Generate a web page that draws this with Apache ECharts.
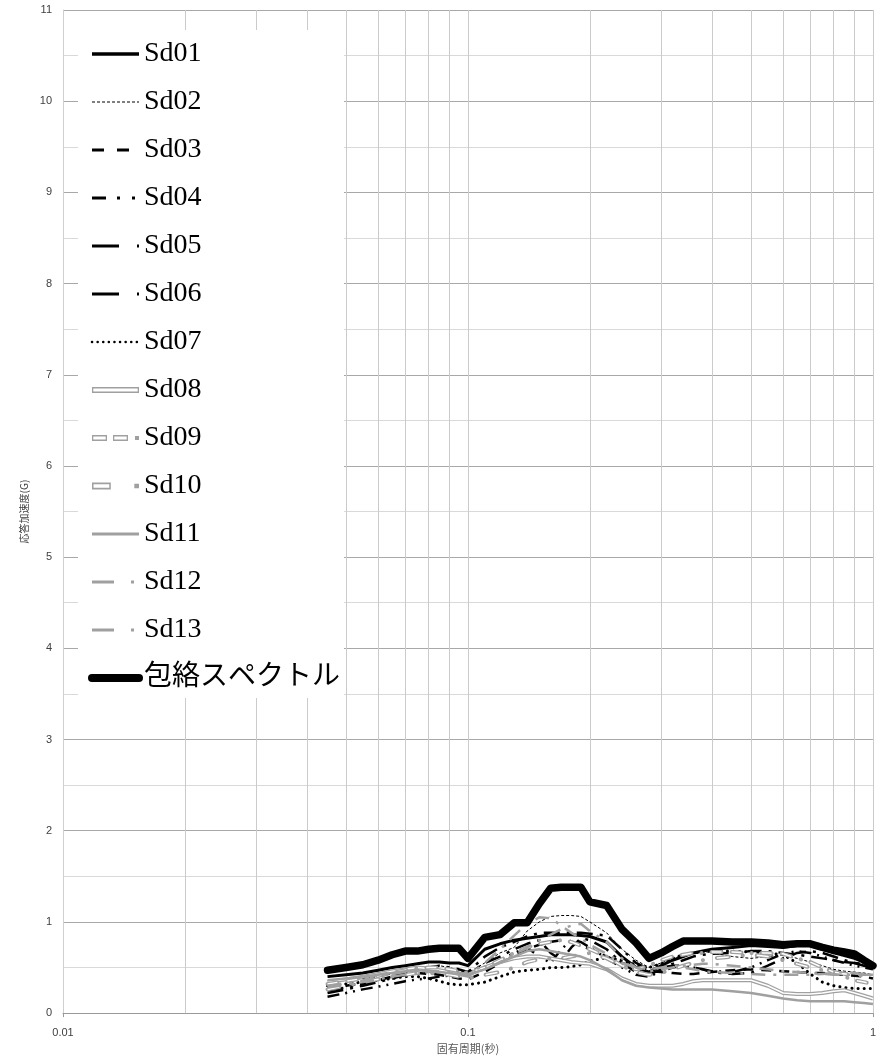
<!DOCTYPE html>
<html><head><meta charset="utf-8">
<script src="https://cdn.jsdelivr.net/npm/echarts@6/dist/echarts.min.js"></script>
<style>html,body{margin:0;padding:0;background:#fff}#c{width:879px;height:1059px}</style>
</head><body><div id="c"></div>
<script>
// ---------------- data ----------------
const periods = [0.045,0.05,0.055,0.06,0.065,0.07,0.075,0.08,0.085,0.09,0.095,0.1,0.11,0.12,0.13,0.14,0.15,0.16,0.17,0.18,0.19,0.2,0.22,0.24,0.26,0.28,0.3,0.32,0.34,0.36,0.38,0.4,0.45,0.5,0.55,0.6,0.65,0.7,0.75,0.8,0.85,0.9,0.95,1.0];
const sd01 = [0.40,0.42,0.44,0.47,0.50,0.52,0.54,0.56,0.56,0.55,0.55,0.52,0.70,0.76,0.80,0.82,0.84,0.86,0.86,0.86,0.85,0.84,0.78,0.62,0.50,0.45,0.52,0.58,0.62,0.66,0.68,0.70,0.72,0.74,0.73,0.72,0.74,0.74,0.70,0.66,0.63,0.60,0.56,0.50];
const sd02 = [0.33,0.36,0.38,0.40,0.43,0.46,0.48,0.50,0.52,0.50,0.47,0.44,0.55,0.66,0.72,0.90,1.00,1.06,1.07,1.07,1.06,1.00,0.88,0.70,0.58,0.50,0.55,0.60,0.63,0.66,0.68,0.66,0.62,0.60,0.62,0.64,0.60,0.56,0.52,0.48,0.46,0.45,0.44,0.42];
const sd03 = [0.28,0.30,0.33,0.36,0.40,0.42,0.44,0.43,0.42,0.40,0.38,0.37,0.45,0.55,0.62,0.70,0.75,0.78,0.80,0.78,0.74,0.70,0.62,0.55,0.50,0.46,0.45,0.44,0.43,0.43,0.44,0.45,0.47,0.48,0.47,0.46,0.45,0.44,0.44,0.43,0.42,0.41,0.40,0.38];
const sd04 = [0.18,0.22,0.26,0.29,0.32,0.35,0.37,0.38,0.40,0.41,0.42,0.43,0.50,0.58,0.66,0.72,0.62,0.55,0.70,0.80,0.78,0.72,0.60,0.50,0.42,0.40,0.46,0.50,0.52,0.50,0.48,0.46,0.45,0.50,0.58,0.65,0.68,0.66,0.62,0.58,0.55,0.52,0.50,0.48];
const sd05 = [0.25,0.28,0.32,0.36,0.40,0.44,0.47,0.50,0.52,0.50,0.48,0.45,0.62,0.72,0.78,0.84,0.88,0.88,0.88,0.88,0.88,0.87,0.85,0.70,0.55,0.48,0.50,0.52,0.52,0.50,0.48,0.45,0.43,0.44,0.52,0.60,0.66,0.68,0.66,0.62,0.58,0.55,0.52,0.50];
const sd06 = [0.22,0.26,0.30,0.34,0.38,0.42,0.45,0.46,0.47,0.46,0.44,0.42,0.55,0.62,0.70,0.76,0.80,0.66,0.58,0.72,0.82,0.80,0.70,0.55,0.45,0.42,0.48,0.54,0.58,0.62,0.64,0.65,0.66,0.68,0.68,0.66,0.64,0.62,0.60,0.58,0.56,0.55,0.54,0.52];
const sd07 = [0.30,0.32,0.34,0.36,0.38,0.40,0.40,0.38,0.35,0.32,0.31,0.31,0.34,0.40,0.45,0.47,0.48,0.50,0.50,0.51,0.53,0.57,0.61,0.58,0.53,0.50,0.54,0.60,0.64,0.66,0.67,0.68,0.68,0.67,0.66,0.64,0.55,0.43,0.34,0.30,0.28,0.27,0.27,0.27];
const sd08 = [0.34,0.37,0.40,0.43,0.46,0.48,0.50,0.49,0.47,0.45,0.43,0.42,0.50,0.56,0.60,0.62,0.62,0.60,0.58,0.56,0.55,0.54,0.48,0.38,0.32,0.30,0.30,0.30,0.32,0.35,0.36,0.36,0.36,0.36,0.30,0.22,0.21,0.21,0.22,0.24,0.25,0.22,0.19,0.16];
const sd09 = [0.32,0.35,0.38,0.41,0.44,0.47,0.49,0.50,0.50,0.48,0.46,0.44,0.50,0.58,0.66,0.72,0.76,0.78,0.80,0.78,0.74,0.70,0.62,0.52,0.48,0.52,0.58,0.62,0.64,0.66,0.66,0.67,0.67,0.66,0.66,0.65,0.60,0.56,0.50,0.45,0.40,0.36,0.34,0.32];
const sd10 = [0.26,0.30,0.34,0.37,0.40,0.42,0.44,0.44,0.43,0.42,0.40,0.38,0.42,0.45,0.50,0.56,0.59,0.60,0.60,0.62,0.64,0.66,0.60,0.52,0.45,0.42,0.44,0.48,0.52,0.55,0.58,0.60,0.62,0.64,0.62,0.58,0.54,0.50,0.47,0.45,0.43,0.42,0.41,0.40];
const sd11 = [0.36,0.38,0.40,0.42,0.44,0.46,0.47,0.46,0.45,0.44,0.43,0.42,0.48,0.55,0.62,0.68,0.70,0.68,0.66,0.64,0.62,0.58,0.48,0.36,0.30,0.28,0.27,0.26,0.26,0.26,0.26,0.26,0.24,0.22,0.19,0.16,0.14,0.13,0.13,0.13,0.13,0.12,0.11,0.10];
const sd12 = [0.30,0.33,0.36,0.40,0.43,0.45,0.46,0.46,0.45,0.44,0.42,0.40,0.55,0.70,0.85,0.98,1.05,1.04,0.96,0.88,0.82,0.75,0.65,0.55,0.50,0.48,0.50,0.52,0.50,0.48,0.46,0.45,0.44,0.43,0.42,0.42,0.42,0.42,0.43,0.44,0.45,0.44,0.43,0.42];
const sd13 = [0.28,0.31,0.34,0.37,0.40,0.42,0.44,0.45,0.46,0.45,0.44,0.42,0.48,0.56,0.64,0.72,0.80,0.86,0.92,0.96,0.98,0.90,0.78,0.60,0.50,0.46,0.48,0.50,0.52,0.53,0.54,0.54,0.52,0.50,0.48,0.46,0.45,0.44,0.43,0.42,0.42,0.42,0.42,0.42];
const envelope = [0.47,0.50,0.53,0.58,0.64,0.68,0.68,0.70,0.71,0.71,0.71,0.60,0.83,0.86,0.99,0.99,1.20,1.37,1.38,1.38,1.38,1.22,1.18,0.92,0.77,0.60,0.66,0.73,0.79,0.79,0.79,0.79,0.78,0.78,0.77,0.75,0.76,0.76,0.72,0.69,0.67,0.65,0.58,0.52];
const seriesNames = ['Sd01','Sd02','Sd03','Sd04','Sd05','Sd06','Sd07','Sd08','Sd09','Sd10','Sd11','Sd12','Sd13','包絡スペクトル'];
const seriesValues = [sd01,sd02,sd03,sd04,sd05,sd06,sd07,sd08,sd09,sd10,sd11,sd12,sd13,envelope];
const minorGridPeriods = [0.02,0.03,0.04,0.05,0.06,0.07,0.08,0.09,0.2,0.3,0.4,0.5,0.6,0.7,0.8,0.9];
const xAxisTitle = '固有周期(秒)';
const yAxisTitle = '応答加速度(G)';

// ---------------- styles ----------------
const BLACK = '#000000', GRAY = '#a0a0a0';
const styles = {
  'Sd01': {color: BLACK, width: 3, type: 'solid'},
  'Sd02': {color: BLACK, width: 1, type: [3, 2]},
  'Sd03': {color: BLACK, width: 2.5, type: [10, 8]},
  'Sd04': {color: BLACK, width: 2.5, type: [12, 6, 2, 6, 2, 6]},
  'Sd05': {color: BLACK, width: 2.5, type: [16, 7, 3, 7]},
  'Sd06': {color: BLACK, width: 2.5, type: [16, 7, 3, 7]},
  'Sd07': {color: BLACK, width: 3, type: [0.1, 6], cap: 'round'},
  'Sd08': {color: GRAY, width: 4, type: 'solid', dbl: true},
  'Sd09': {color: GRAY, width: 4, type: [10, 10, 10, 10, 0.1, 10], cap: 'round', dbl: true},
  'Sd10': {color: GRAY, width: 4, type: [12, 14, 0.1, 14], cap: 'round', dbl: true},
  'Sd11': {color: GRAY, width: 2.5, type: 'solid'},
  'Sd12': {color: GRAY, width: 2.5, type: [14, 8, 3, 8]},
  'Sd13': {color: GRAY, width: 2.5, type: [14, 8, 3, 8]},
  '包絡スペクトル': {color: BLACK, width: 7.5, type: 'solid', cap: 'round'}
};
const noMarker = {opacity: 0};
const legendLook = {
  'Sd01': {itemStyle: noMarker, lineStyle: {width: 3.5, type: 'solid'}},
  'Sd02': {itemStyle: noMarker, lineStyle: {width: 1, type: [3, 2]}},
  'Sd03': {itemStyle: noMarker, lineStyle: {width: 3, type: [12, 13]}},
  'Sd04': {itemStyle: noMarker, lineStyle: {width: 3, type: [14, 11, 3, 12, 3, 20]}},
  'Sd05': {itemStyle: noMarker, lineStyle: {width: 3, type: [27, 18, 3, 10]}},
  'Sd06': {itemStyle: noMarker, lineStyle: {width: 3, type: [27, 18, 3, 10]}},
  'Sd07': {itemStyle: noMarker, lineStyle: {width: 2.5, type: [0.1, 5.5], cap: 'round'}},
  'Sd08': {icon: 'path://M0,0H47V6H0Z M1.3,1.5V4.5H45.7V1.5Z'},
  'Sd09': {icon: 'path://M0,0H15V6H0Z M1.3,1.5V4.5H13.7V1.5Z M21,0H36V6H21Z M22.3,1.5V4.5H34.7V1.5Z M43,1H47V5H43Z'},
  'Sd10': {icon: 'path://M0,0H16V6H0Z M1.3,1.5V4.5H14.7V1.5Z M36,1H40V5H36Z'},
  'Sd11': {itemStyle: noMarker, lineStyle: {width: 3, type: 'solid'}},
  'Sd12': {itemStyle: noMarker, lineStyle: {width: 3, type: [22, 17, 3, 10]}},
  'Sd13': {itemStyle: noMarker, lineStyle: {width: 3, type: [22, 17, 3, 10]}},
  '包絡スペクトル': {itemStyle: noMarker, lineStyle: {width: 8, type: 'solid', cap: 'round'}}
};

// ---------------- build ----------------
const series = [];
series.push({
  name: '__grid', type: 'line', data: [], silent: true, z: 1,
  markLine: {
    silent: true, z: 1, symbol: ['none', 'none'], animation: false,
    label: {show: false}, emphasis: {disabled: true},
    lineStyle: {color: '#cbcbcb', width: 1, type: 'solid'},
    data: minorGridPeriods.map(p => ({xAxis: p}))
  }
});
seriesNames.forEach((name, k) => {
  const st = styles[name];
  const data = periods.map((t, i) => [t, seriesValues[k][i]]);
  series.push({
    name: name, type: 'line', data: data, symbol: 'none', showSymbol: false,
    z: 2 + k * 0.01, silent: true,
    itemStyle: {color: st.color},
    lineStyle: {color: st.color, width: st.width, type: st.type, cap: st.cap || 'butt', join: 'round'},
    emphasis: {disabled: true}
  });
  if (st.dbl) {
    series.push({
      name: name + '__inner', type: 'line', data: data, symbol: 'none', showSymbol: false,
      z: 2 + k * 0.01 + 0.005, silent: true,
      itemStyle: {color: '#ffffff'},
      lineStyle: {color: '#ffffff', width: 1.5, type: st.type, cap: 'butt', join: 'round'},
      emphasis: {disabled: true}
    });
  }
});

const legendData = seriesNames.map(n => Object.assign({name: n}, legendLook[n]));

const chart = echarts.init(document.getElementById('c'), null, {renderer: 'canvas'});
chart.setOption({
  animation: false,
  backgroundColor: '#ffffff',
  grid: {left: 63, right: 6, top: 10, bottom: 43, containLabel: false},
  legend: {
    data: legendData, orient: 'vertical', left: 78, top: 30,
    backgroundColor: '#ffffff', padding: [9, 4, 5, 10],
    itemWidth: 47, itemHeight: 8, itemGap: 18, selectedMode: false,
    textStyle: {fontFamily: '"Liberation Serif", "Noto Sans CJK JP", serif', fontSize: 28, color: '#000', lineHeight: 30}
  },
  xAxis: {
    type: 'log', logBase: 10, min: 0.01, max: 1,
    name: xAxisTitle, nameLocation: 'middle', nameGap: 28,
    nameTextStyle: {fontFamily: '"Noto Sans CJK JP", sans-serif', fontSize: 11, color: '#595959'},
    axisLine: {show: true, lineStyle: {color: '#9a9a9a', width: 1}},
    axisTick: {show: true, length: 4, lineStyle: {color: '#9a9a9a'}},
    axisLabel: {fontFamily: '"Liberation Sans", sans-serif', fontSize: 11, color: '#404040', margin: 14,
      formatter: v => String(+v.toPrecision(6))},
    splitLine: {show: true, lineStyle: {color: '#cbcbcb', width: 1}},
    minorTick: {show: false}, minorSplitLine: {show: false}
  },
  yAxis: {
    type: 'value', min: 0, max: 11, interval: 1,
    name: yAxisTitle, nameLocation: 'middle', nameGap: 26, nameRotate: 90,
    nameTextStyle: {fontFamily: '"Noto Sans CJK JP", sans-serif', fontSize: 10, color: '#404040'},
    axisLine: {show: true, lineStyle: {color: '#cfcfcf', width: 1}},
    axisTick: {show: false},
    minorTick: {show: false, splitNumber: 2},
    axisLabel: {fontFamily: '"Liberation Sans", sans-serif', fontSize: 11, color: '#404040', margin: 11},
    splitLine: {show: true, lineStyle: {color: '#a8a8a8', width: 1}},
    minorSplitLine: {show: true, lineStyle: {color: '#d9d9d9', width: 1}}
  },
  series: series
});
</script></body></html>
